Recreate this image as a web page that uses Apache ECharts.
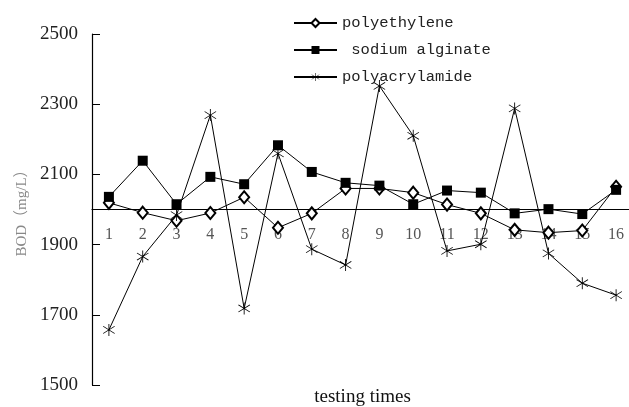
<!DOCTYPE html>
<html>
<head>
<meta charset="utf-8">
<script src="https://cdn.jsdelivr.net/npm/echarts@6/dist/echarts.min.js"></script>
<style>html,body{margin:0;padding:0;background:#fff}#c{width:629px;height:407px}</style>
</head>
<body>
<div id="c"></div>
<script>
var categories = ['1','2','3','4','5','6','7','8','9','10','11','12','13','14','15','16'];
var seriesNames = ['polyethylene', ' sodium alginate', 'polyacrylamide'];
var polyethylene = [2019, 1991, 1968, 1990, 2035, 1948, 1989, 2060, 2060, 2048, 2014, 1989, 1942, 1934, 1940, 2065];
var sodiumAlginate = [2036, 2139, 2015, 2093, 2072, 2183, 2107, 2076, 2068, 2015, 2054, 2048, 1989, 2001, 1987, 2056];
var polyacrylamide = [1657, 1866, 1984, 2269, 1718, 2160, 1887, 1842, 2352, 2210, 1882, 1901, 2288, 1875, 1790, 1756];
var yTicks = [1500, 1700, 1900, 2100, 2300, 2500];
var baseValue = 2000;

var yMin = 1500, yMax = 2500;
var gridTop = 34, gridBottom = 22, H = 407;
var gridH = H - gridTop - gridBottom;
var xOffset = -(baseValue - yMin) / (yMax - yMin) * gridH;

var star = 'path://M9.4 0 L10.6 0 L10.6 20 L9.4 20 Z M1.64 4.48 L2.36 3.52 L18.36 15.52 L17.64 16.48 Z M1.64 15.52 L17.64 3.52 L18.36 4.48 L2.36 16.48 Z';

var chart = echarts.init(document.getElementById('c'));
chart.setOption({
  animation: false,
  backgroundColor: '#fff',
  grid: {left: 92, right: -4, top: gridTop, bottom: gridBottom, containLabel: false, outerBoundsMode: 'none'},
  legend: {
    orient: 'vertical', left: 288, top: 10, itemGap: 11,
    itemWidth: 43, itemHeight: 10,
    textStyle: {fontFamily: 'Liberation Mono', fontSize: 15.5, color: '#222'},
    data: seriesNames
  },
  xAxis: {
    type: 'category', data: categories, boundaryGap: true,
    offset: xOffset,
    name: 'testing times', nameLocation: 'middle', nameGap: 178,
    nameTextStyle: {fontFamily: 'Liberation Serif', fontSize: 19, color: '#111'},
    axisLine: {lineStyle: {color: '#000', width: 1.2}},
    axisTick: {inside: true, length: 5, lineStyle: {color: '#000'}},
    axisLabel: {margin: 17, fontFamily: 'Liberation Serif', fontSize: 16, color: '#555'}
  },
  yAxis: {
    type: 'value', min: yMin, max: yMax, interval: 200,
    name: 'BOD（mg/L）', nameLocation: 'middle', nameGap: 62,
    nameTextStyle: {fontFamily: 'Liberation Serif, Noto Sans CJK SC', fontSize: 15, color: '#888'},
    axisLine: {show: true, lineStyle: {color: '#000', width: 1.2}},
    axisTick: {show: true, inside: true, length: 8, lineStyle: {color: '#000'}},
    axisLabel: {margin: 14, fontFamily: 'Liberation Serif', fontSize: 19, color: '#222',
      formatter: function (v) { return yTicks.indexOf(v) >= 0 ? String(v) : ''; }},
    splitLine: {show: false}
  },
  series: [
    {name: seriesNames[0], type: 'line', data: polyethylene, symbol: 'emptyDiamond', symbolSize: [10, 12],
     lineStyle: {color: '#000', width: 1}, itemStyle: {color: '#000', borderColor: '#000', borderWidth: 0.8}},
    {name: seriesNames[1], type: 'line', data: sodiumAlginate, symbol: 'rect', symbolSize: 10,
     lineStyle: {color: '#000', width: 1}, itemStyle: {color: '#000'}},
    {name: seriesNames[2], type: 'line', data: polyacrylamide, symbol: star, symbolSize: 12,
     lineStyle: {color: '#000', width: 1}, itemStyle: {color: '#000'}}
  ]
});
</script>
</body>
</html>
